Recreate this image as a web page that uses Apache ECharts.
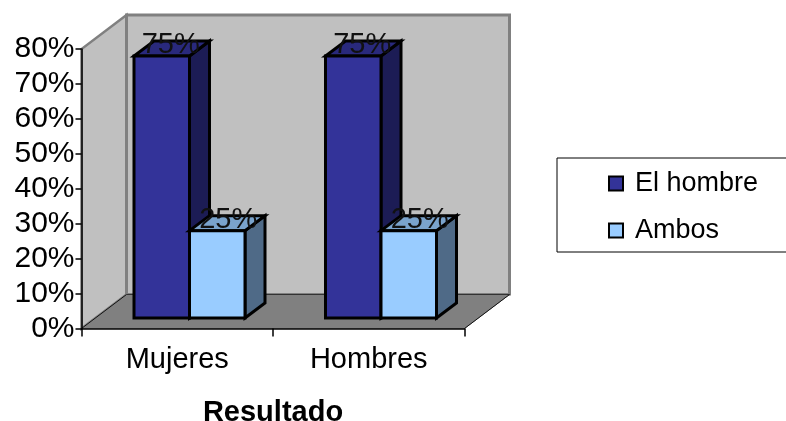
<!DOCTYPE html>
<html>
<head>
<meta charset="utf-8">
<style>html,body{margin:0;padding:0;background:#fff}#c{width:786px;height:421px}</style>
<script src="https://cdn.jsdelivr.net/npm/echarts@6/dist/echarts.min.js"></script>
</head>
<body>
<div id="c"></div>
<script>
var categories = ['Mujeres', 'Hombres'];
var tickMax = 0.8;
var elHombre = [0.75, 0.75];
var ambos = [0.25, 0.25];
var FONT = '"Liberation Sans", Arial, sans-serif';

var WALL_D = [45, -34];
var BAR_D = [20, -15];
var BAR_IN = [12.5, -10.5];
var GAP = 40;
var BAR_W = 55.5;

function barItem(idx, face, side, top) {
  return function (params, api) {
    var i = api.value(0), v = api.value(1);
    var base = api.coord([i, 0]);
    var tip = api.coord([i, v]);
    var band = api.size([1, 0])[0];
    var x0 = base[0] - band / 2 + GAP + BAR_IN[0] + idx * BAR_W;
    var x1 = x0 + BAR_W;
    var yb = base[1] + BAR_IN[1];
    var yt = tip[1] + BAR_IN[1];
    var d = BAR_D;
    var ln = {stroke: '#000', lineWidth: 3, lineJoin: 'miter'};
    function poly(pts, fill) {
      return {type: 'polygon', shape: {points: pts},
        style: Object.assign({fill: fill}, ln)};
    }
    return {type: 'group', children: [
      poly([[x1, yb], [x1 + d[0], yb + d[1]], [x1 + d[0], yt + d[1]], [x1, yt]], side),
      poly([[x0, yt], [x1, yt], [x1 + d[0], yt + d[1]], [x0 + d[0], yt + d[1]]], top),
      poly([[x0, yb], [x1, yb], [x1, yt], [x0, yt]], face),
      {type: 'text', z2: 50, style: {
        text: Math.round(v * 100) + '%',
        x: (x0 + x1) / 2 + 9 + idx * 2, y: yt + 4,
        textAlign: 'center', textVerticalAlign: 'bottom',
        font: '29px ' + FONT, fill: '#111'
      }}
    ]};
  };
}

function wallItem(params, api) {
  var c = params.coordSys;
  var l = c.x, r = c.x + c.width, t = c.y, b = c.y + c.height;
  var dx = WALL_D[0], dy = WALL_D[1];
  function poly(pts, fill, stroke, w) {
    return {type: 'polygon', shape: {points: pts},
      style: {fill: fill, stroke: stroke, lineWidth: w}};
  }
  function seg(a, e, col, w) {
    return {type: 'line', shape: {x1: a[0], y1: a[1], x2: e[0], y2: e[1]},
      style: {stroke: col, lineWidth: w}};
  }
  return {type: 'group', children: [
    poly([[l, b], [l + dx, b + dy], [l + dx, t + dy], [l, t]], '#c0c0c0', '#808080', 2.5),
    poly([[l + dx, b + dy], [r + dx, b + dy], [r + dx, t + dy], [l + dx, t + dy]], '#c0c0c0', '#808080', 3),
    poly([[l, b], [r, b], [r + dx, b + dy], [l + dx, b + dy]], '#808080', '#808080', 1),
    seg([l, b], [l + dx, b + dy], '#111', 1),
    seg([l + dx, b + dy], [r + dx, b + dy], '#333', 1),
    seg([r, b], [r + dx, b + dy], '#111', 1),
    seg([r + 1, b + 1], [r + dx + 1, b + dy + 1], '#fff', 1)
  ]};
}

var chart = echarts.init(document.getElementById('c'), null, {renderer: 'canvas'});
chart.setOption({
  animation: false,
  backgroundColor: '#fff',
  grid: {left: 81.5, top: 49, width: 383, height: 279.5, containLabel: false, outerBoundsMode: 'none'},
  legend: {
    data: ['El hombre', 'Ambos'],
    left: 557, top: 158, orient: 'vertical', align: 'left',
    padding: [12, 40, 8, 51],
    backgroundColor: '#fff',
    borderColor: '#000', borderWidth: 1,
    itemWidth: 14, itemHeight: 14, itemGap: 20, icon: 'rect',
    selectedMode: false,
    textStyle: {fontFamily: FONT, fontSize: 27, color: '#000', padding: [0, 0, 0, 7]}
  },
  xAxis: {
    type: 'category', data: categories, z: 6,
    axisLine: {lineStyle: {color: '#000', width: 1.5}},
    axisTick: {show: true, alignWithLabel: false, length: 8, lineStyle: {color: '#000', width: 1.5}},
    axisLabel: {fontFamily: FONT, fontSize: 29, color: '#000', margin: 17},
    name: 'Resultado', nameLocation: 'middle', nameGap: 70,
    nameTextStyle: {fontFamily: FONT, fontSize: 29, fontWeight: 'bold', color: '#000'}
  },
  yAxis: {
    type: 'value', min: 0, max: tickMax, interval: 0.1, z: 6,
    axisLine: {show: true, lineStyle: {color: '#000', width: 1.5}},
    axisTick: {show: true, length: 6, lineStyle: {color: '#000', width: 1.5}},
    splitLine: {show: false},
    axisLabel: {fontFamily: FONT, fontSize: 30, color: '#000', margin: 7,
      formatter: function (v) { return Math.round(v * 100) + '%'; }}
  },
  series: [
    {type: 'custom', name: 'walls', coordinateSystem: 'cartesian2d', z: 1, silent: true, clip: false,
      renderItem: wallItem, data: [[0, tickMax]], encode: {x: 0, y: 1}},
    {type: 'custom', name: 'El hombre', coordinateSystem: 'cartesian2d', z: 2, clip: false,
      itemStyle: {color: '#333399', borderColor: '#000', borderWidth: 2.5},
      renderItem: barItem(0, '#333399', '#1c1c55', '#29297c'),
      data: elHombre.map(function (v, i) { return [i, v]; }), encode: {x: 0, y: 1}},
    {type: 'custom', name: 'Ambos', coordinateSystem: 'cartesian2d', z: 3, clip: false,
      itemStyle: {color: '#99ccff', borderColor: '#000', borderWidth: 2.5},
      renderItem: barItem(1, '#99ccff', '#4f6a87', '#7aa3cc'),
      data: ambos.map(function (v, i) { return [i, v]; }), encode: {x: 0, y: 1}}
  ]
});
</script>
</body>
</html>
